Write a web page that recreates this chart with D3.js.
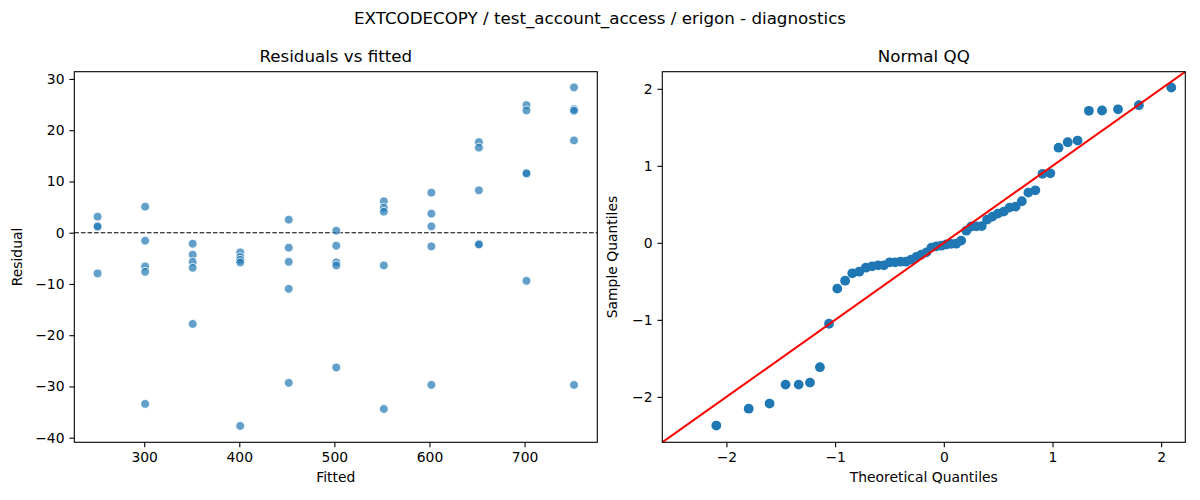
<!DOCTYPE html>
<html>
<head>
<meta charset="utf-8">
<script src="https://cdn.jsdelivr.net/npm/d3@7"></script>
<style>
  body { margin: 0; background: #fff; }
  svg { font-family: "DejaVu Sans", sans-serif; }
</style>
</head>
<body>
<div id="chart"></div>
<script>
// residuals vs fitted
const fitted = [
  251, 251, 251, 251,
  301, 301, 301, 301, 301,
  351, 351, 351, 351, 351,
  401, 401, 401, 401, 401,
  452, 452, 452, 452, 452,
  502, 502, 502, 502, 502,
  552, 552, 552, 552, 552,
  602, 602, 602, 602, 602,
  652, 652, 652, 652, 652,
  702, 702, 702, 702, 702,
  752, 752, 752, 752, 752
];
const residual = [
  3.13, 1.3, 1.2, -7.95,
  5.08, -1.56, -6.58, -7.63, -33.4,
  -2.15, -4.3, -5.67, -6.85, -17.8,
  -3.85, -4.76, -5.28, -5.8, -37.7,
  2.54, -2.93, -5.67, -10.95, -29.3,
  0.39, -2.54, -5.8, -6.39, -26.3,
  6.13, 4.89, 4.1, -6.39, -34.4,
  7.82, 3.72, 1.24, -2.67, -29.7,
  17.67, 16.6, 8.28, -2.2, -2.3,
  24.9, 23.86, 11.5, 11.6, -9.39,
  28.36, 24.1, 23.8, 18.0, -29.7
];

// normal QQ points
const qqTheoretical = [
  -2.093, -1.795, -1.603, -1.456, -1.335, -1.231, -1.140, -1.056, -0.980, -0.908,
  -0.842, -0.778, -0.718, -0.660, -0.605, -0.551, -0.498, -0.447, -0.398, -0.349,
  -0.301, -0.253, -0.207, -0.160, -0.114, -0.068, -0.023, 0.023, 0.068, 0.114,
  0.160, 0.207, 0.253, 0.301, 0.349, 0.398, 0.447, 0.498, 0.551, 0.605,
  0.660, 0.718, 0.778, 0.842, 0.908, 0.980, 1.056, 1.140, 1.231, 1.335,
  1.456, 1.603, 1.795, 2.093
];
const qqSample = [
  -2.373, -2.154, -2.087, -1.841, -1.841, -1.815, -1.615, -1.051, -0.595, -0.492,
  -0.396, -0.375, -0.323, -0.305, -0.292, -0.292, -0.253, -0.253, -0.245, -0.245,
  -0.219, -0.184, -0.153, -0.124, -0.062, -0.045, -0.037, -0.021, -0.014, -0.011,
  0.029, 0.158, 0.212, 0.214, 0.218, 0.301, 0.340, 0.379, 0.405, 0.457,
  0.470, 0.540, 0.652, 0.682, 0.896, 0.903, 1.235, 1.306, 1.328, 1.714,
  1.718, 1.734, 1.787, 2.017
];

const residTicks = [-40, -30, -20, -10, 0, 10, 20, 30];
const fittedTicks = [300, 400, 500, 600, 700];
const qqTicks = [-2, -1, 0, 1, 2];

const W = 1200, H = 500;
const BLUE = "#1f77b4";
const intFmt = d3.format("d");

const svg = d3.select("#chart").append("svg")
  .attr("width", W)
  .attr("height", H);

svg.append("text")
  .attr("x", 600)
  .attr("y", 24)
  .attr("text-anchor", "middle")
  .attr("font-size", "16.7px")
  .text("EXTCODECOPY / test_account_access / erigon - diagnostics");

function styleAxis(g) {
  g.selectAll("path.domain").remove();
  g.selectAll(".tick line").attr("stroke", "#000").attr("stroke-width", 1.1);
  g.selectAll(".tick text")
    .attr("fill", "#000")
    .attr("font-size", "13.9px")
    .attr("font-family", "DejaVu Sans, sans-serif");
}

function panel(box, xDomain, yDomain, xTicks, yTicks, title, xLabel, yLabel, yLabelX) {
  const x = d3.scaleLinear().domain(xDomain).range([box.left, box.right]);
  const y = d3.scaleLinear().domain(yDomain).range([box.bottom, box.top]);

  const g = svg.append("g");

  g.append("g")
    .attr("transform", `translate(0,${box.bottom})`)
    .call(d3.axisBottom(x).tickValues(xTicks).tickFormat(intFmt)
      .tickSize(4.9).tickPadding(4.9).tickSizeOuter(0))
    .call(styleAxis);

  g.append("g")
    .attr("transform", `translate(${box.left},0)`)
    .call(d3.axisLeft(y).tickValues(yTicks).tickFormat(intFmt)
      .tickSize(4.9).tickPadding(4.9).tickSizeOuter(0))
    .call(styleAxis);

  g.append("text")
    .attr("x", (box.left + box.right) / 2)
    .attr("y", 62)
    .attr("text-anchor", "middle")
    .attr("font-size", "16.7px")
    .text(title);

  g.append("text")
    .attr("x", (box.left + box.right) / 2)
    .attr("y", 482)
    .attr("text-anchor", "middle")
    .attr("font-size", "13.9px")
    .text(xLabel);

  g.append("text")
    .attr("transform", `translate(${yLabelX},${(box.top + box.bottom) / 2}) rotate(-90)`)
    .attr("text-anchor", "middle")
    .attr("font-size", "13.9px")
    .text(yLabel);

  const clipId = "clip" + Math.round(box.left);
  svg.append("clipPath").attr("id", clipId)
    .append("rect")
    .attr("x", box.left).attr("y", box.top)
    .attr("width", box.right - box.left).attr("height", box.bottom - box.top);

  const plot = g.append("g").attr("clip-path", `url(#${clipId})`);

  return { x, y, g, plot, box };
}

function frame(p) {
  p.g.append("rect")
    .attr("x", p.box.left).attr("y", p.box.top)
    .attr("width", p.box.right - p.box.left)
    .attr("height", p.box.bottom - p.box.top)
    .attr("fill", "none")
    .attr("stroke", "#000")
    .attr("stroke-width", 1.1);
}

// ---- left: residuals vs fitted
const left = panel(
  { left: 74.3, right: 597.3, top: 71.7, bottom: 442.3 },
  [226.5, 776.5], [-40.9, 31.42],
  fittedTicks, residTicks,
  "Residuals vs fitted", "Fitted", "Residual", 22
);

left.plot.append("line")
  .attr("x1", left.box.left).attr("x2", left.box.right)
  .attr("y1", left.y(0)).attr("y2", left.y(0))
  .attr("stroke", "#000")
  .attr("stroke-width", 1.1)
  .attr("stroke-dasharray", "4.6,2");

left.plot.selectAll("circle")
  .data(fitted.map((f, i) => ({ f, r: residual[i] })))
  .enter()
  .append("circle")
  .attr("cx", d => left.x(d.f))
  .attr("cy", d => left.y(d.r))
  .attr("r", 4.4)
  .attr("fill", BLUE)
  .attr("fill-opacity", 0.7)
  .attr("stroke", "#fff")
  .attr("stroke-width", 0.8);

frame(left);

// ---- right: normal QQ
const right = panel(
  { left: 662.3, right: 1185.3, top: 71.7, bottom: 442.3 },
  [-2.59, 2.222], [-2.59, 2.222],
  qqTicks, qqTicks,
  "Normal QQ", "Theoretical Quantiles", "Sample Quantiles", 617
);

right.plot.selectAll("circle")
  .data(qqTheoretical.map((t, i) => ({ t, s: qqSample[i] })))
  .enter()
  .append("circle")
  .attr("cx", d => right.x(d.t))
  .attr("cy", d => right.y(d.s))
  .attr("r", 4.9)
  .attr("fill", BLUE);

right.plot.append("line")
  .attr("x1", right.x(-2.59)).attr("y1", right.y(-2.59))
  .attr("x2", right.x(2.222)).attr("y2", right.y(2.222))
  .attr("stroke", "red")
  .attr("stroke-width", 2);

frame(right);
</script>
</body>
</html>
